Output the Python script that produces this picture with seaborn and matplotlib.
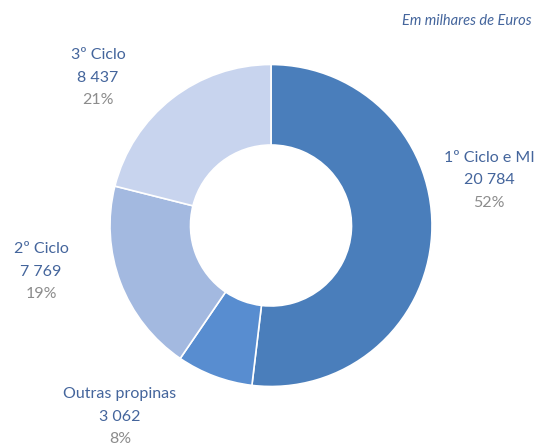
import matplotlib.pyplot as plt
import seaborn as sns

# data
categories = ['1º Ciclo e MI', 'Outras propinas', '2º Ciclo', '3º Ciclo']
values = [20784, 3062, 7769, 8437]
value_labels = ['20 784', '3 062', '7 769', '8 437']
colors = ['#4a7ebb', '#588dd0', '#a3b9e0', '#c8d4ee']

sns.set_theme(style='white')
plt.rcParams['font.family'] = ['Lato', 'DejaVu Sans']

W, H = 534, 448
fig = plt.figure(figsize=(W / 100, H / 100), dpi=100)

# donut placement (pixels)
cx, cy, r = 271, 225.5, 161
ax = fig.add_axes([(cx - r) / W, (H - cy - r) / H, 2 * r / W, 2 * r / H])
ax.pie(values, colors=colors, startangle=90, counterclock=False,
       wedgeprops=dict(width=0.5, edgecolor='white', linewidth=1.2))
ax.set_aspect('equal')
ax.set_xlim(-1, 1)
ax.set_ylim(-1, 1)
ax.axis('off')

total = sum(values)
label_pos = {  # text centre x, first line y (pixels)
    '1º Ciclo e MI': (489, 158),
    'Outras propinas': (120, 394),
    '2º Ciclo': (41, 249),
    '3º Ciclo': (98, 55),
}
for cat, val, vl in zip(categories, values, value_labels):
    x, y = label_pos[cat]
    pct = f'{round(val / total * 100)}%'
    fig.text(x / W, 1 - y / H, cat, ha='center', va='center',
             fontsize=11.5, color='#44659c')
    fig.text(x / W, 1 - (y + 22.5) / H, vl, ha='center', va='center',
             fontsize=11.5, color='#44659c')
    fig.text(x / W, 1 - (y + 45) / H, pct, ha='center', va='center',
             fontsize=11.5, color='#8c8c8c')

fig.text(532 / W, 1 - 21 / H, 'Em milhares de Euros', ha='right', va='center',
         fontsize=10.5, style='italic', color='#44659c')

fig.savefig('out.png', dpi=100)
